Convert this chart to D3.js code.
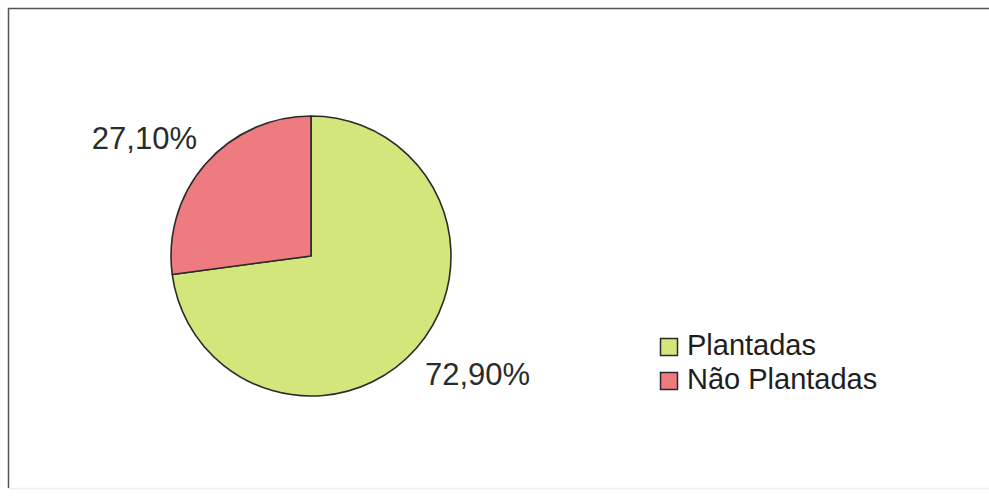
<!DOCTYPE html>
<html>
<head>
<meta charset="utf-8">
<script src="https://cdn.jsdelivr.net/npm/d3@7/dist/d3.min.js"></script>
<style>
  html, body { margin: 0; padding: 0; background: #ffffff; overflow: hidden; }
  svg { display: block; font-family: "Liberation Sans", Arial, sans-serif; }
</style>
</head>
<body>
<svg id="chart" width="989" height="499"></svg>
<script>
// Area shares (percent)
const categories = ["Plantadas", "Não Plantadas"];
const values = [72.9, 27.1];
const valueLabels = ["72,90%", "27,10%"];
const colors = ["#d2e67c", "#ee7b7f"];

const svg = d3.select("#chart");
const W = 989, H = 499;

// Frame around the chart area (right edge runs past the page)
svg.append("path")
  .attr("d", `M${W + 5},8.5 H8.5 V488`)
  .attr("fill", "none")
  .attr("stroke", "#555")
  .attr("stroke-width", 1.5);
svg.append("line")
  .attr("x1", 9).attr("x2", W).attr("y1", 488.5).attr("y2", 488.5)
  .attr("stroke", "#eee").attr("stroke-width", 1.5);

const cx = 311, cy = 256, r = 140;

const pie = d3.pie().sort(null).value(d => d)
  .startAngle(0).endAngle(2 * Math.PI);
const arcs = pie(values);
const arc = d3.arc().innerRadius(0).outerRadius(r);

const g = svg.append("g").attr("transform", `translate(${cx},${cy})`);
g.selectAll("path")
  .data(arcs)
  .join("path")
  .attr("d", arc)
  .attr("fill", (d, i) => colors[i])
  .attr("stroke", "#2a2a2a")
  .attr("stroke-width", 1.6)
  .attr("stroke-linejoin", "round");

// Value labels outside their slices
const labelAnchors = [
  { x: 425 - cx, y: 385 - cy, anchor: "start" },
  { x: 197 - cx, y: 149 - cy, anchor: "end" }
];
g.selectAll("text.val")
  .data(arcs)
  .join("text")
  .attr("class", "val")
  .attr("x", (d, i) => labelAnchors[i].x)
  .attr("y", (d, i) => labelAnchors[i].y)
  .attr("text-anchor", (d, i) => labelAnchors[i].anchor)
  .attr("font-size", 31)
  .attr("fill", "#2b2b2b")
  .text((d, i) => valueLabels[i]);

// Legend
const legend = svg.append("g").attr("transform", "translate(660,338)");
const rowH = 34;
const rows = legend.selectAll("g")
  .data(categories)
  .join("g")
  .attr("transform", (d, i) => `translate(0,${i * rowH})`);
rows.append("rect")
  .attr("x", 0.5).attr("y", 0.5)
  .attr("width", 17).attr("height", 17)
  .attr("fill", (d, i) => colors[i])
  .attr("stroke", "#2a2a2a")
  .attr("stroke-width", 1.5);
rows.append("text")
  .attr("x", 27).attr("y", 17)
  .attr("font-size", 29)
  .attr("fill", "#1e1e1e")
  .text(d => d);
</script>
</body>
</html>
